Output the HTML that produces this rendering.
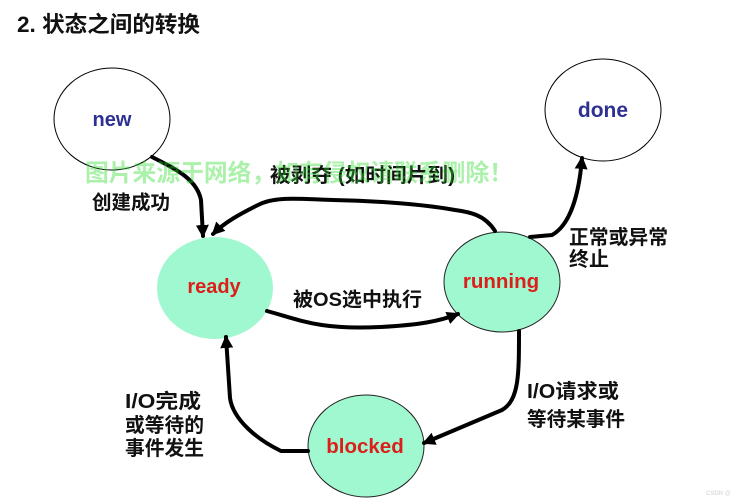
<!DOCTYPE html>
<html>
<head>
<meta charset="utf-8">
<style>
html,body{margin:0;padding:0;background:#fff;}
svg{display:block;}
text{font-family:"Liberation Sans","Noto Sans CJK SC",sans-serif;font-weight:bold;}
</style>
</head>
<body>
<svg width="731" height="500" viewBox="0 0 731 500" xmlns="http://www.w3.org/2000/svg">
<defs>
<marker id="ah" markerUnits="userSpaceOnUse" markerWidth="14" markerHeight="14" refX="11" refY="6.5" orient="auto">
<path d="M0,0 L13,6.5 L0,13 z" fill="#000"/>
</marker>
</defs>
<rect width="731" height="500" fill="#fff"/>

<!-- title -->
<text x="17" y="32" font-size="22" fill="#111" textLength="183" lengthAdjust="spacingAndGlyphs">2. 状态之间的转换</text>

<!-- nodes -->
<ellipse cx="112" cy="119" rx="58" ry="51" fill="#fff" stroke="#000" stroke-width="1"/>
<ellipse cx="603" cy="110" rx="58" ry="51" fill="#fff" stroke="#000" stroke-width="1"/>
<ellipse cx="215" cy="288" rx="58" ry="51" fill="#a0f8d0"/>
<ellipse cx="502" cy="282" rx="58" ry="50" fill="#a0f8d0" stroke="#222" stroke-width="1"/>
<ellipse cx="366" cy="446" rx="58" ry="51" fill="#a0f8d0" stroke="#222" stroke-width="1"/>

<text x="112" y="126" font-size="20" fill="#2e3192" text-anchor="middle">new</text>
<text x="603" y="117" font-size="21" fill="#2e3192" text-anchor="middle">done</text>
<text x="214" y="293" font-size="20" fill="#dc1f1a" text-anchor="middle">ready</text>
<text x="501" y="288" font-size="20.5" fill="#dc1f1a" text-anchor="middle">running</text>
<text x="365" y="453" font-size="20.5" fill="#dc1f1a" text-anchor="middle">blocked</text>

<!-- connectors -->
<g fill="none" stroke="#000" stroke-width="4" stroke-linecap="round" stroke-linejoin="round">
<path d="M152,157 C178,170 197,180 201,200 L203,236" marker-end="url(#ah)"/>
<path d="M495,231 C485,215 470,212 455,210 C420,204 380,201 333,200 C300,199 275,196 258,205 C240,214 225,222 213,234" marker-end="url(#ah)"/>
<path d="M267,311 C300,320 320,330 380,327 C420,325 440,321 458,314" marker-end="url(#ah)"/>
<path d="M530,237 L552,235 C570,225 579,195 582,158" marker-end="url(#ah)"/>
<path d="M519,331 C519,375 519,400 502,410 L424,443" marker-end="url(#ah)"/>
<path d="M308,451 L281,451 C258,440 233,420 230,398 L226,337" marker-end="url(#ah)"/>
</g>

<!-- labels -->
<text x="92" y="209" font-size="19.5" fill="#111" textLength="78" lengthAdjust="spacingAndGlyphs">创建成功</text>
<text x="270" y="182" font-size="20" fill="#111" textLength="185" lengthAdjust="spacingAndGlyphs">被剥夺 (如时间片到)</text>
<text x="293" y="306" font-size="19.5" fill="#111" textLength="129" lengthAdjust="spacingAndGlyphs">被OS选中执行</text>
<text x="569" y="244" font-size="20" fill="#111" textLength="99" lengthAdjust="spacingAndGlyphs">正常或异常</text>
<text x="569" y="266" font-size="20" fill="#111" textLength="40" lengthAdjust="spacingAndGlyphs">终止</text>
<text x="527" y="398" font-size="20" fill="#111" textLength="92" lengthAdjust="spacingAndGlyphs">I/O请求或</text>
<text x="527" y="426" font-size="20" fill="#111" textLength="98" lengthAdjust="spacingAndGlyphs">等待某事件</text>
<text x="125" y="408" font-size="20" fill="#111" textLength="76" lengthAdjust="spacingAndGlyphs">I/O完成</text>
<text x="125" y="432" font-size="20" fill="#111" textLength="79" lengthAdjust="spacingAndGlyphs">或等待的</text>
<text x="125" y="455" font-size="20" fill="#111" textLength="79" lengthAdjust="spacingAndGlyphs">事件发生</text>

<!-- watermark -->
<text x="85" y="181" font-size="24" fill="rgb(45,220,45)" fill-opacity="0.4" textLength="428" lengthAdjust="spacingAndGlyphs">图片来源于网络，如有侵权请联系删除！</text>
<text x="706" y="495" font-size="6" fill="#ddd" font-weight="normal">CSDN @net</text>
</svg>
</body>
</html>
